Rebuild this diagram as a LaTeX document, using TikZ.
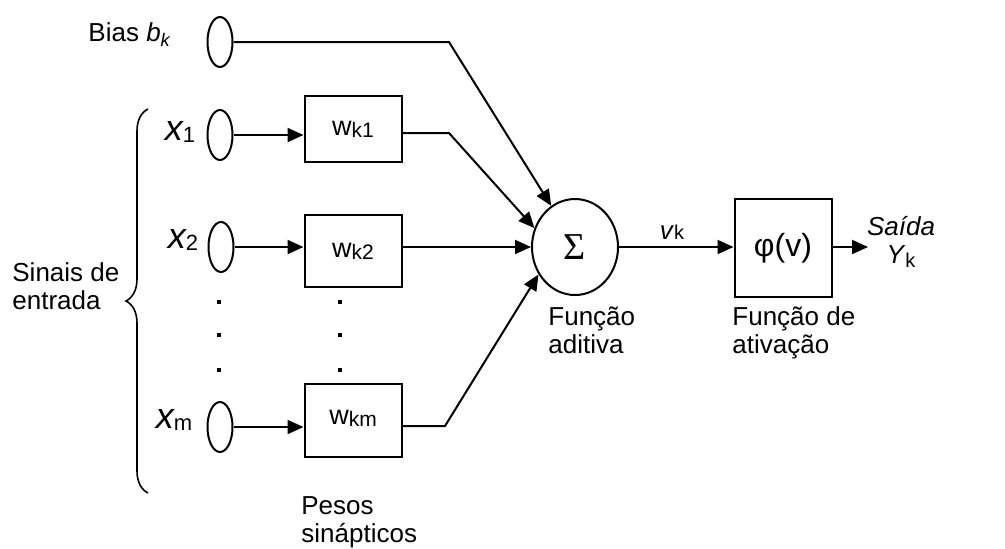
\documentclass[tikz,border=0pt]{standalone}
\usepackage{fontspec}
\setmainfont{Liberation Sans}
\newfontfamily\serifgr{Liberation Serif}
\usetikzlibrary{shapes.geometric,arrows.meta,decorations.pathreplacing}
\tikzset{
  inp/.style={draw,ellipse,line width=1pt,inner sep=0pt,minimum width=12.5pt,minimum height=25pt},
  wbox/.style={draw,rectangle,line width=1pt,minimum width=48.5pt,inner sep=0pt,font=\fontsize{13.5}{14}\selectfont},
  conn/.style={line width=1pt,-{Triangle[length=8pt,width=7pt]}},
  lbl/.style={font=\fontsize{13}{14}\selectfont,inner sep=0pt},
  dotn/.style={fill,rectangle,inner sep=0pt,minimum size=2.2pt},
}
\newcommand{\xsub}[1]{{\fontsize{18}{18}\selectfont\itshape x}{\fontsize{11}{10}\selectfont\raisebox{-1pt}{#1}}}
\newcommand{\wsub}[1]{w{\fontsize{10.5}{10}\selectfont\raisebox{-1pt}{k#1}}}
\begin{document}
\begin{tikzpicture}[x=0.5pt,y=-0.5pt]
\useasboundingbox (0,0) rectangle (1005,548);
\node[inp] (b) at (220,42) {};
\node[inp] (x1) at (220,135) {};
\node[inp] (x2) at (221,247) {};
\node[inp] (xm) at (220,427) {};
\node[wbox,minimum height=33pt] (w1) at (353,129) {\wsub{1}};
\node[wbox,minimum height=36pt] (w2) at (353,251) {\wsub{2}};
\node[wbox,minimum height=36.5pt] (wm) at (353,420) {\raisebox{3pt}{\wsub{m}}};
\node[draw,ellipse,line width=1pt,inner sep=0pt,minimum width=43pt,minimum height=48pt] (sum) at (575,247) {\serifgr\fontsize{19}{19}\selectfont Σ};
\node[wbox,minimum height=49pt] (phi) at (783,248) {\fontsize{16}{16}\selectfont φ(v)};
\coordinate (kb) at (449,42);
\coordinate (k1) at (449,133);
\coordinate (km) at (445,426);
\coordinate (out) at (868,247);
\coordinate (bt) at (148,109);
\coordinate (bb) at (148,493);
\node[lbl,anchor=east] (tb) at (172,35) {Bias \textit{b}\textsubscript{\textit{k}}};
\node[lbl] (tx1) at (180,132) {\xsub{1}};
\node[lbl] (tx2) at (183,240) {\xsub{2}};
\node[lbl] (txm) at (174,420) {\xsub{m}};
\node[lbl,align=left,anchor=west] (sin) at (12,286) {Sinais de\\entrada};
\node[lbl,align=left,anchor=north west] (pes) at (301,496) {Pesos\\sinápticos};
\node[lbl,align=left,anchor=north west] (fad) at (548,306) {Função\\aditiva};
\node[lbl,align=left,anchor=north west] (fat) at (732,306) {Função de\\ativação};
\node[lbl] (tv) at (672,232) {\textit{v}{\fontsize{10}{10}\selectfont k}};
\node[lbl,align=center] (tout) at (901,242) {\textit{Saída}\\\textit{Y}{\fontsize{10}{10}\selectfont\raisebox{-2pt}{k}}};
\foreach \yy in {302,335,370} {
  \node[dotn] at (219,\yy) {};
  \node[dotn] at (340,\yy) {};
}
\path[draw,conn] (b) -- (kb) -- (sum.120);
\path[draw,conn] (x1) -- (x1 -| w1.west);
\path[draw,conn] (x2) -- (x2 -| w2.west);
\path[draw,conn] (xm) -- (xm -| wm.west);
\path[draw,conn] (w1.east |- k1) -- (k1) -- (sum.155);
\path[draw,conn] (w2.east |- sum) -- (sum.west);
\path[draw,conn] (wm.east |- km) -- (km) -- (sum.217);
\path[draw,conn] (sum.east) -- (sum.east -| phi.west);
\path[draw,conn] (phi.east |- out) -- (out);
\draw[line width=0.8pt,decorate,decoration={brace,amplitude=11pt}] (bb) -- (bt);
\end{tikzpicture}
\end{document}
